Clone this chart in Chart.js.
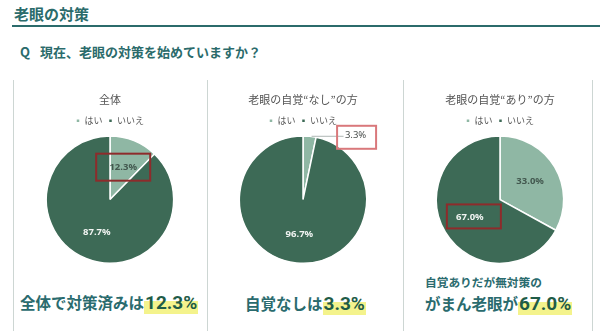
<!DOCTYPE html>
<html lang="ja">
<head>
<meta charset="utf-8">
<script src="https://cdn.jsdelivr.net/npm/chart.js@4"></script>
<style>
  body{margin:0;width:600px;height:331px;background:#fff;position:relative;overflow:hidden;
       font-family:"Noto Sans CJK JP","Noto Sans",sans-serif;}
  .abs{position:absolute;}
  .head{left:14px;top:4px;font-size:15px;font-weight:700;color:#2b6b6b;line-height:20px;}
  .rule{left:12px;top:25px;width:588px;height:2px;background:#2b6b6b;}
  .q{left:20px;top:43px;font-size:13px;font-weight:700;color:#2b6b6b;line-height:18px;white-space:nowrap;}
  .q span{margin-right:10px;}
  .sep{top:80px;width:1px;height:251px;background:#cdd6d3;}
  .panel{top:85px;width:190px;height:181px;}
  .msg{font-weight:700;color:#2a6b6e;white-space:nowrap;line-height:24px;font-size:15.5px;}
  .msg.small{font-size:11.7px;line-height:18px;}
  .num{font-family:Roboto,"Noto Sans",sans-serif;font-size:19px;color:#1f5c47;
       background:linear-gradient(transparent 42%,#f4f38c 42%);padding:0 1px;}
</style>
</head>
<body>
<div class="abs head">老眼の対策</div>
<div class="abs rule"></div>
<div class="abs q"><span>Q</span>現在、老眼の対策を始めていますか？</div>

<div class="abs sep" style="left:13px"></div>
<div class="abs sep" style="left:207px"></div>
<div class="abs sep" style="left:403px"></div>
<div class="abs sep" style="left:592px"></div>

<div class="abs panel" style="left:15px"><canvas id="c1"></canvas></div>
<div class="abs panel" style="left:208px"><canvas id="c2"></canvas></div>
<div class="abs panel" style="left:405px"><canvas id="c3"></canvas></div>

<div class="abs msg" style="left:20px;top:290px">全体で対策済みは<span class="num">12.3%</span></div>
<div class="abs msg" style="left:245px;top:291px">自覚なしは<span class="num">3.3%</span></div>
<div class="abs msg small" style="left:425px;top:273px">自覚ありだが無対策の</div>
<div class="abs msg" style="left:425px;top:291px">がまん老眼が<span class="num">67.0%</span></div>

<script>
// ---------- data ----------
const answers = ["はい", "いいえ"];
const panelTitles = ["全体", "老眼の自覚“なし”の方", "老眼の自覚“あり”の方"];
const allValues = [12.3, 87.7];
const unawareValues = [3.3, 96.7];
const awareValues = [33.0, 67.0];

// ---------- style ----------
const LIGHT = "#8fb7a4";
const DARK = "#3d6a56";

// draws the % labels, the red marker box and an outside label with leader line
const sliceLabels = {
  id: "sliceLabels",
  afterDatasetsDraw(chart, args, opts) {
    const { ctx } = chart;
    const meta = chart.getDatasetMeta(0);
    const values = chart.data.datasets[0].data;
    ctx.save();
    ctx.textAlign = "center";
    ctx.textBaseline = "middle";
    meta.data.forEach((arc, i) => {
      const mid = (arc.startAngle + arc.endAngle) / 2;
      const R = arc.outerRadius;
      let x, y;
      const text = values[i].toFixed(1) + "%";
      if (opts.outside === i) {
        const ex = arc.x + Math.cos(mid) * R, ey = arc.y + Math.sin(mid) * R;
        ctx.strokeStyle = "#9aa5a1";
        ctx.lineWidth = 0.8;
        ctx.beginPath();
        ctx.moveTo(ex + 2, ey);
        ctx.lineTo(ex + 34, ey);
        ctx.stroke();
        x = ex + 46; y = ey - 1;
        ctx.fillStyle = "#4a4f4d";
        ctx.font = "9.5px 'Noto Sans', sans-serif";
      } else {
        x = arc.x + Math.cos(mid) * R * 0.55;
        y = arc.y + Math.sin(mid) * R * 0.55;
        ctx.fillStyle = i === 0 ? "#43584f" : "#f2f5f3";
        ctx.font = "bold 9.5px 'Noto Sans', sans-serif";
      }
      ctx.fillText(text, x, y);
      if (opts.box === i) {
        const b = opts.boxSize;
        ctx.strokeStyle = opts.boxColor;
        ctx.lineWidth = 2;
        ctx.strokeRect(x - b[0] / 2 + (b[2] || 0), y - b[1] / 2 + (b[3] || 0), b[0], b[1]);
      }
    });
    ctx.restore();
  }
};

function makePie(canvasId, title, values, labelOpts) {
  return new Chart(document.getElementById(canvasId), {
    type: "pie",
    data: {
      labels: answers,
      datasets: [{
        data: values,
        backgroundColor: [LIGHT, DARK],
        borderColor: "#ffffff",
        borderWidth: 1.5,
        hoverOffset: 0
      }]
    },
    options: {
      responsive: true,
      maintainAspectRatio: false,
      animation: false,
      layout: { padding: { top: 0, bottom: 2 } },
      plugins: {
        title: {
          display: true,
          text: title,
          color: "#555",
          font: { size: 11, family: "'Noto Sans CJK JP', sans-serif", weight: "normal" },
          padding: { top: 8, bottom: 4 }
        },
        legend: {
          display: true,
          position: "top",
          labels: {
            boxWidth: 4, boxHeight: 4,
            color: "#555",
            font: { size: 9, family: "'Noto Sans CJK JP', sans-serif" },
            padding: 6
          }
        },
        tooltip: { enabled: false },
        sliceLabels: labelOpts
      }
    },
    plugins: [sliceLabels]
  });
}

makePie("c1", panelTitles[0], allValues, { box: 0, boxSize: [54, 27, 0, 0], boxColor: "#8e2b2b" });
makePie("c2", panelTitles[1], unawareValues, { outside: 0, box: 0, boxSize: [39, 23, 1, 2], boxColor: "#d9787b" });
makePie("c3", panelTitles[2], awareValues, { box: 1, boxSize: [54, 24, 4, -1], boxColor: "#8e2b2b" });
</script>
</body>
</html>
